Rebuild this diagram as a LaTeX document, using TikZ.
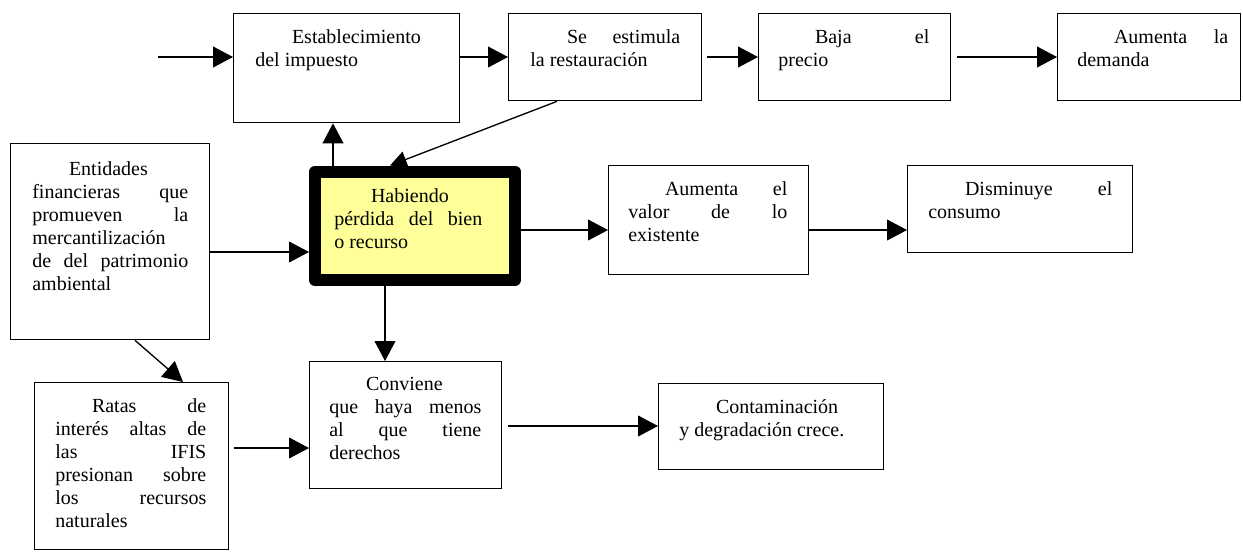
\documentclass[tikz,border=0pt]{standalone}
\usepackage{fontspec}
\setmainfont{Liberation Serif}
\usetikzlibrary{arrows.meta}
\definecolor{habfill}{HTML}{FFFF99}
\tikzset{
  boxst/.style={draw=black, line width=0.8pt, inner sep=0pt, anchor=north west},
  habst/.style={draw=black, line width=7.2pt, line join=round, fill=habfill, inner sep=0pt, anchor=north west},
  txtst/.style={inner sep=0pt, anchor=north west, align=justify,
    font=\fontsize{12}{13.8}\selectfont},
  arr/.style={line width=0.8pt, -{Triangle[length=12pt,width=12.5pt]}},
  arrs/.style={line width=0.8pt, -{Triangle[length=10pt,width=10pt]}}
}
\newcommand\tx[5]{\node[txtst, text width=#4pt] (#1) at (#2,{#3-16.1}) {\noindent\strut\hspace*{22pt}\tolerance=10000\hyphenpenalty=10000 #5};}
\begin{document}
\begin{tikzpicture}[x=0.6pt,y=-0.6pt]
\useasboundingbox (0,0) rectangle (1243,551);
% boxes
\node[boxst, minimum width=135.6pt, minimum height=65.4pt] (b1) at (233,13) {};
\node[boxst, minimum width=115.8pt, minimum height=52.2pt] (b2) at (508,13) {};
\node[boxst, minimum width=115.2pt, minimum height=52.2pt] (b3) at (758,13) {};
\node[boxst, minimum width=109.8pt, minimum height=52.2pt] (b4) at (1057,13) {};
\node[boxst, minimum width=119.4pt, minimum height=117.6pt] (ent) at (10,143) {};
\node[boxst, minimum width=120pt, minimum height=65.4pt] (val) at (608,165) {};
\node[boxst, minimum width=135pt, minimum height=52.2pt] (dis) at (907,165) {};
\node[boxst, minimum width=116.4pt, minimum height=100.2pt] (rat) at (34,382) {};
\node[boxst, minimum width=115.2pt, minimum height=76.2pt] (conv) at (309,361) {};
\node[boxst, minimum width=135pt, minimum height=51.6pt] (cont) at (658,383) {};
\node[habst, minimum width=120pt, minimum height=65.1pt] (hab) at (309,165.5) {};
% connectors
\coordinate (yT) at (0,57);
\coordinate (s0) at (158,57);
\coordinate (s2) at (707,57);
\coordinate (s3) at (957,57);
\draw[arr] (s0) -- (b1.west |- yT);
\draw[arr] (b1.east |- yT) -- (b2.west |- yT);
\draw[arr] (s2) -- (b3.west |- yT);
\draw[arr] (s3) -- (b4.west |- yT);
\coordinate (xA) at (333,0);
\draw[arr] (hab.north -| xA) -- (b1.south -| xA);
\coordinate (xB) at (557,0);
\coordinate (xC) at (390,0);
\draw[arrs] (b2.south -| xB) -- (hab.north -| xC);
\coordinate (yD) at (0,252);
\draw[arr] (ent.east |- yD) -- (hab.west |- yD);
\coordinate (yE) at (0,230);
\draw[arr] (hab.east |- yE) -- (val.west |- yE);
\draw[arr] (val.east |- yE) -- (dis.west |- yE);
\coordinate (xF) at (385,0);
\draw[arr] (hab.south -| xF) -- (conv.north -| xF);
\coordinate (xG) at (135,0);
\coordinate (xH) at (183,0);
\draw[arr] (ent.south -| xG) -- (rat.north -| xH);
\coordinate (s5) at (234,448);
\draw[arr] (s5) -- (conv.west |- s5);
\coordinate (s6) at (508,426);
\draw[arr] (s6) -- (cont.west |- s6);
% texts
\tx{t1}{255}{43}{109.2}{Establecimiento\linebreak del impuesto}
\tx{t2}{530}{43}{90}{Se estimula\linebreak la restauración}
\tx{t3}{778}{43}{90.6}{Baja el\linebreak precio}
\tx{t4}{1077}{43}{90.6}{Aumenta la\linebreak demanda}
\tx{tent}{32}{175}{93.6}{Entidades\linebreak financieras que\linebreak promueven la\linebreak mercantilización\linebreak de del patrimonio\linebreak ambiental}
\tx{thab}{334}{202}{88.8}{Habiendo\linebreak pérdida del bien\linebreak o recurso}
\tx{tval}{628}{195}{95.4}{Aumenta el\linebreak valor de lo\linebreak existente}
\tx{tdis}{928}{195}{110.4}{Disminuye el\linebreak consumo}
\tx{trat}{55}{412}{90.6}{Ratas de\linebreak interés altas de\linebreak las IFIS\linebreak presionan sobre\linebreak los recursos\linebreak naturales}
\tx{tconv}{329}{390}{91.2}{Conviene\linebreak que haya menos\linebreak al que tiene\linebreak derechos}
\tx{tcont}{679}{413}{109.8}{Contaminación\linebreak y degradación crece.}
\end{tikzpicture}
\end{document}
